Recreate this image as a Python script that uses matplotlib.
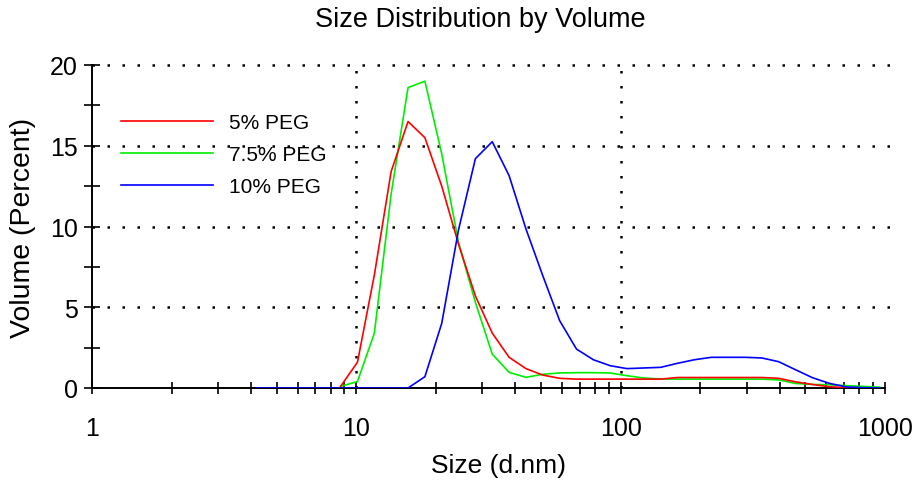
import numpy as np
import matplotlib.pyplot as plt
from matplotlib.ticker import FixedLocator, NullFormatter, MultipleLocator

plt.rcParams['font.family'] = ['Liberation Sans', 'DejaVu Sans']

nan = np.nan

# size classes (d.nm) of the instrument
sizes = [4.187, 4.849, 5.615, 6.503, 7.531, 8.721, 10.10, 11.70, 13.54, 15.69,
         18.17, 21.04, 24.36, 28.21, 32.67, 37.84, 43.82, 50.75, 58.77, 68.06,
         78.82, 91.28, 105.7, 122.4, 141.8, 164.2, 190.1, 220.2, 255.0, 295.3,
         342.0, 396.1, 458.7, 531.2, 615.1, 712.4, 825.0, 955.4]

peg_5 = [nan, nan, nan, nan, nan, 0.1, 1.6, 7.0, 13.4, 16.5,
         15.5, 12.5, 8.9, 5.7, 3.4, 1.9, 1.2, 0.8, 0.6, 0.55,
         0.55, 0.55, 0.55, 0.55, 0.55, 0.65, 0.65, 0.65, 0.65, 0.65,
         0.65, 0.6, 0.38, 0.22, 0.08, 0.02, 0.0, nan]

peg_7_5 = [nan, nan, nan, nan, nan, 0.1, 0.4, 3.4, 12.0, 18.6,
           19.0, 14.5, 9.0, 5.3, 2.1, 0.97, 0.66, 0.85, 0.93, 0.95,
           0.95, 0.93, 0.76, 0.62, 0.56, 0.55, 0.55, 0.55, 0.55, 0.55,
           0.55, 0.5, 0.28, 0.22, 0.2, 0.15, 0.1, 0.05]

peg_10 = [0, 0, 0, 0, 0, 0, 0, 0, 0, 0.0,
          0.7, 4.0, 9.8, 14.2, 15.25, 13.15, 9.85, 6.95, 4.17, 2.41,
          1.75, 1.38, 1.2, 1.24, 1.28, 1.53, 1.75, 1.9, 1.9, 1.9,
          1.86, 1.63, 1.13, 0.64, 0.29, 0.07, 0.02, 0.0]

labels = ["5% PEG", "7.5% PEG", "10% PEG"]
colors = ["#ff0000", "#00ee00", "#0000ff"]

fig = plt.figure(figsize=(9.13, 4.81), dpi=100)
ax = fig.add_axes([92 / 913, 92 / 481, (885 - 92) / 913, 323 / 481])

ax.plot(sizes, peg_5, color=colors[0], lw=1.2, label=labels[0], zorder=4)
ax.plot(sizes, peg_7_5, color=colors[1], lw=1.2, label=labels[1], zorder=3)
ax.plot(sizes, peg_10, color=colors[2], lw=1.2, label=labels[2], zorder=5)

ax.set_xscale('log')
ax.set_xlim(1, 1000)
ax.set_ylim(0, 20)

# dotted grid
dots = dict(color='black', lw=1.8, linestyle=(0, (1, 5)), zorder=1)
for yv in [5, 10, 15, 20]:
    ax.axhline(yv, xmin=0, xmax=1.008, clip_on=False, **dots)
for xv in [10, 100]:
    ax.axvline(xv, **dots)

ax.spines['top'].set_visible(False)
ax.spines['right'].set_visible(False)
for s in ['left', 'bottom']:
    ax.spines[s].set_linewidth(1.4)

ax.xaxis.set_major_locator(FixedLocator([1, 10, 100, 1000]))
ax.set_xticklabels(["1", "10", "100", "1000"])
ax.xaxis.set_minor_locator(FixedLocator([k * 10 ** e for e in range(3) for k in range(2, 10)]))
ax.xaxis.set_minor_formatter(NullFormatter())
ax.yaxis.set_major_locator(MultipleLocator(5))
ax.yaxis.set_minor_locator(MultipleLocator(2.5))

ax.tick_params(axis='x', which='both', direction='inout', length=9, width=1.2,
               pad=16, labelsize=18)
ax.tick_params(axis='y', which='both', direction='inout', length=12, width=1.2,
               pad=4, labelsize=18)

ax.set_xlabel("Size (d.nm)", fontsize=19, labelpad=9)
ax.xaxis.set_label_coords((498 - 92) / 793, -0.2)
ax.set_ylabel("Volume (Percent)", fontsize=20.5, labelpad=10)
fig.suptitle("Size Distribution by Volume", fontsize=19.5, x=480 / 913, y=1 - 7 / 481, va='top')

ax.legend(loc='upper left', bbox_to_anchor=(0.026, 0.877), frameon=False, fontsize=15,
          handlelength=4.4, handletextpad=0.8, labelspacing=0.62, borderaxespad=0)

fig.savefig("out.png", dpi=100)
